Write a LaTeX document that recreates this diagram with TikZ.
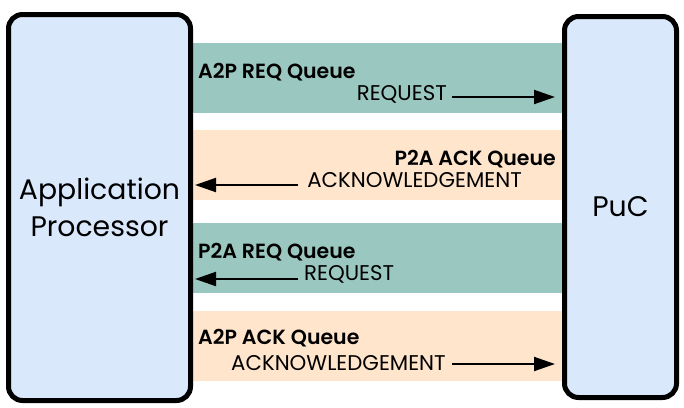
\documentclass[tikz,border=0pt]{standalone}
\usepackage{fontspec}
\setmainfont{Poppins}
\newfontfamily\semib{Poppins SemiBold}
\usetikzlibrary{arrows.meta}
\definecolor{teal1}{HTML}{9AC7BF}
\definecolor{peach}{HTML}{FFE5CC}
\definecolor{boxblue}{HTML}{DAE8FC}
\begin{document}
\begin{tikzpicture}[x=1pt,y=-1pt,
  unit/.style={draw=black,line width=5pt,fill=boxblue,rounded corners=14pt,inner sep=0pt,font=\fontsize{28.3}{37}\selectfont,align=center},
  qlabel/.style={inner sep=0pt,font=\fontsize{20.5}{20.5}\selectfont\semib},
  msg/.style={inner sep=0pt,font=\fontsize{21.3}{21.3}\selectfont},
  arr/.style={line width=2pt,-{Triangle[length=21pt,width=14pt]}}]
\useasboundingbox (0,0) rectangle (684,407);
% bands
\fill[teal1] (193,43) rectangle (562,113);
\fill[peach] (193,130) rectangle (562,200);
\fill[teal1] (193,223) rectangle (562,293);
\fill[peach] (193,311) rectangle (562,381);
% units
\node[unit,minimum width=182pt,minimum height=386pt] (ap) at (99.5,207.5) {Application\\Processor};
\node[unit,minimum width=112pt,minimum height=381pt] (puc) at (620.5,207) {PuC};
% band 1
\node[qlabel,anchor=base west] (q1) at (198,78) {A2P REQ Queue};
\node[msg,anchor=base east] (m1) at (447,100) {REQUEST};
\coordinate (a1s) at (452,97);
\coordinate (a1e) at (555,97);
\draw[arr] (a1s) -- (a1e);
% band 2
\node[qlabel,anchor=base east] (q2) at (556,165) {P2A ACK Queue};
\node[msg,anchor=base east] (m2) at (522,187) {ACKNOWLEDGEMENT};
\coordinate (a2s) at (298,185);
\coordinate (a2e) at (195,185);
\draw[arr] (a2s) -- (a2e);
% band 3
\node[qlabel,anchor=base west] (q3) at (198,258) {P2A REQ Queue};
\node[msg,anchor=base west] (m3) at (304,280) {REQUEST};
\coordinate (a3s) at (298,279);
\coordinate (a3e) at (195,279);
\draw[arr] (a3s) -- (a3e);
% band 4
\node[qlabel,anchor=base west] (q4) at (198,344) {A2P ACK Queue};
\node[msg,anchor=base west] (m4) at (231,370) {ACKNOWLEDGEMENT};
\coordinate (a4s) at (452,364);
\coordinate (a4e) at (555,364);
\draw[arr] (a4s) -- (a4e);
\end{tikzpicture}
\end{document}
